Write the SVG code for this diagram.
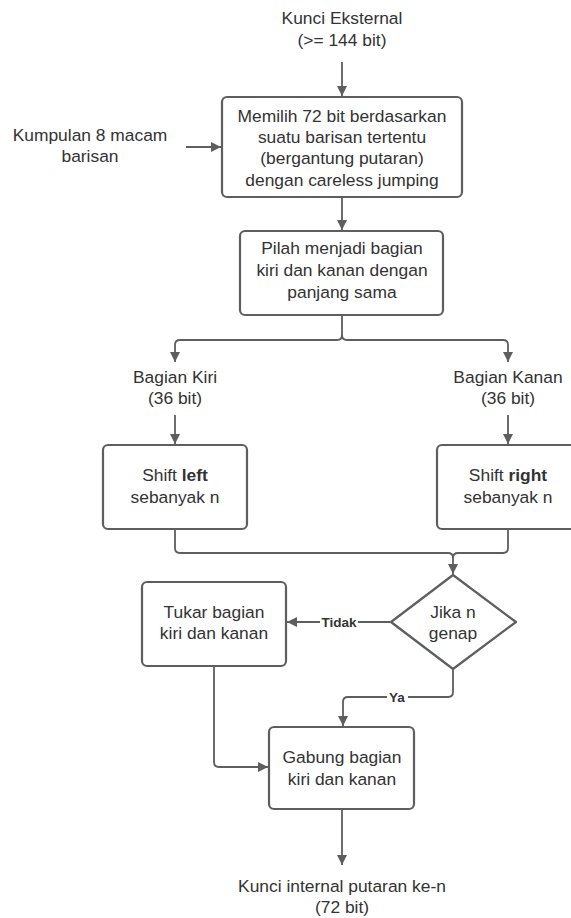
<svg xmlns="http://www.w3.org/2000/svg" width="571" height="918" viewBox="0 0 571 918">
  <style>
    .box { fill: #ffffff; stroke: #5e5e5e; stroke-width: 2.2; }
    .edge { fill: none; stroke: #5e5e5e; stroke-width: 1.8; }
    text { font-family: "Liberation Sans", Arial, sans-serif; font-size: 17.4px; fill: #333333; text-anchor: middle; }
    .lbl { font-size: 13.5px; font-weight: bold; }
  </style>
  <defs>
    <marker id="arrow" viewBox="0 0 10 10" refX="10" refY="5" markerWidth="10" markerHeight="10" markerUnits="userSpaceOnUse" orient="auto">
      <path d="M0,0 L10,5 L0,10 Z" fill="#5e5e5e"/>
    </marker>
  </defs>
  <rect width="571" height="918" fill="#ffffff"/>

  <!-- free labels -->
  <g id="kunci-eksternal">
    <text x="342" y="24">Kunci Eksternal</text>
    <text x="342" y="46">(&gt;= 144 bit)</text>
  </g>
  <g id="kumpulan">
    <text x="90" y="141">Kumpulan 8 macam</text>
    <text x="90" y="162">barisan</text>
  </g>
  <g id="bagian-kiri">
    <text x="175" y="383">Bagian Kiri</text>
    <text x="175" y="404">(36 bit)</text>
  </g>
  <g id="bagian-kanan">
    <text x="508" y="383">Bagian Kanan</text>
    <text x="508" y="404">(36 bit)</text>
  </g>
  <g id="kunci-internal">
    <text x="342" y="892">Kunci internal putaran ke-n</text>
    <text x="342" y="913">(72 bit)</text>
  </g>

  <!-- process nodes -->
  <g id="memilih">
    <rect class="box" x="222" y="97" width="240" height="100" rx="5"/>
    <text x="342" y="122">Memilih 72 bit berdasarkan</text>
    <text x="342" y="143">suatu barisan tertentu</text>
    <text x="342" y="164">(bergantung putaran)</text>
    <text x="342" y="186">dengan careless jumping</text>
  </g>
  <g id="pilah">
    <rect class="box" x="240" y="231" width="203" height="84" rx="5"/>
    <text x="342" y="254">Pilah menjadi bagian</text>
    <text x="342" y="276">kiri dan kanan dengan</text>
    <text x="342" y="298">panjang sama</text>
  </g>
  <g id="shift-left">
    <rect class="box" x="103" y="445" width="144" height="84" rx="5"/>
    <text x="175" y="481">Shift <tspan font-weight="bold">left</tspan></text>
    <text x="175" y="503">sebanyak n</text>
  </g>
  <g id="shift-right">
    <rect class="box" x="437" y="445" width="142" height="84" rx="5"/>
    <text x="508" y="481">Shift <tspan font-weight="bold">right</tspan></text>
    <text x="508" y="503">sebanyak n</text>
  </g>
  <g id="jika-genap">
    <path class="box" d="M453,575 L516,622 L453,669 L391,622 Z" stroke-linejoin="round"/>
    <text x="453" y="618">Jika n</text>
    <text x="453" y="639">genap</text>
  </g>
  <g id="tukar">
    <rect class="box" x="142" y="582" width="144" height="84" rx="5"/>
    <text x="214" y="618">Tukar bagian</text>
    <text x="214" y="639">kiri dan kanan</text>
  </g>
  <g id="gabung">
    <rect class="box" x="269" y="727" width="145" height="82" rx="5"/>
    <text x="342" y="763">Gabung bagian</text>
    <text x="342" y="785">kiri dan kanan</text>
  </g>

  <!-- connectors -->
  <g id="connectors">
    <path class="edge" d="M342,62 V96" marker-end="url(#arrow)"/>
    <path class="edge" d="M186,147 H221" marker-end="url(#arrow)"/>
    <path class="edge" d="M342,198 V230" marker-end="url(#arrow)"/>
    <path class="edge" d="M342,316 V335 Q342,340 337,340 H180 Q175,340 175,345 V362" marker-end="url(#arrow)"/>
    <path class="edge" d="M342,335 Q342,340 347,340 H503 Q508,340 508,345 V362" marker-end="url(#arrow)"/>
    <path class="edge" d="M175,415 V444" marker-end="url(#arrow)"/>
    <path class="edge" d="M508,415 V444" marker-end="url(#arrow)"/>
    <path class="edge" d="M175,530 V548 Q175,553 180,553 H448 Q453,553 453,558 V574" marker-end="url(#arrow)"/>
    <path class="edge" d="M508,530 V548 Q508,553 503,553 H458 Q453,553 453,558"/>
    <path class="edge" d="M390,622 H358 M320,622 H287" marker-end="url(#arrow)"/>
    <text class="lbl" x="339" y="627">Tidak</text>
    <path class="edge" d="M453,670 V692 Q453,697 448,697 H408 M387,697 H348 Q343,697 343,702 V726" marker-end="url(#arrow)"/>
    <text class="lbl" x="397" y="702">Ya</text>
    <path class="edge" d="M214,667 V762 Q214,767 219,767 H268" marker-end="url(#arrow)"/>
    <path class="edge" d="M342,810 V865" marker-end="url(#arrow)"/>
  </g>
</svg>
